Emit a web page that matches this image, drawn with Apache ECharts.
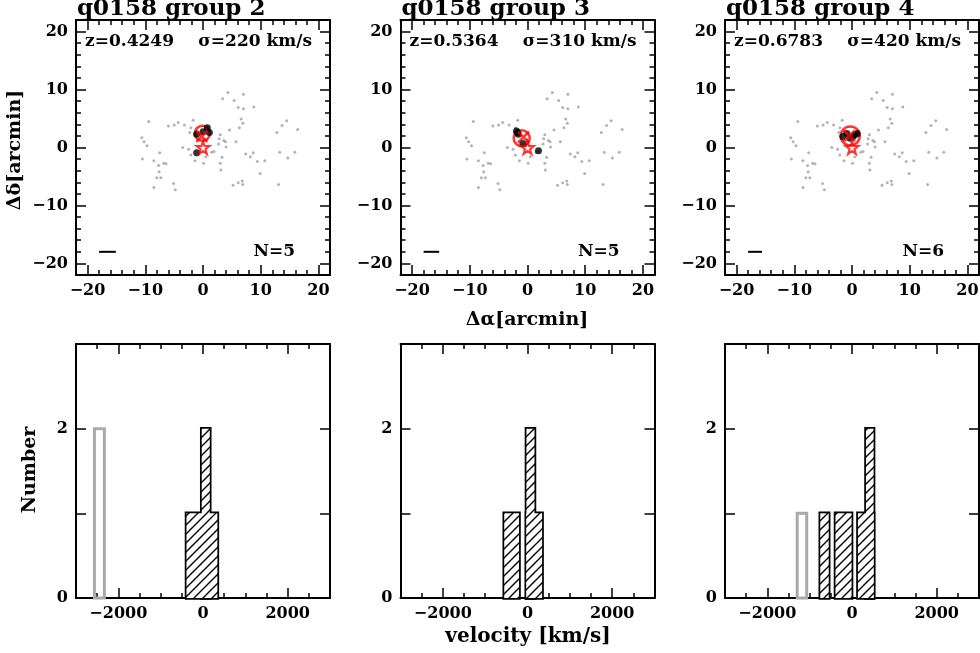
<!DOCTYPE html>
<html>
<head>
<meta charset="utf-8">
<script src="https://cdn.jsdelivr.net/npm/echarts@6/dist/echarts.min.js"></script>
<style>
  html, body { margin: 0; padding: 0; background: #fff; }
  #chart { width: 980px; height: 653px; }
</style>
</head>
<body>
<div id="chart"></div>
<script>
/* ── field galaxies round q0158 (arcmin), same in every panel ── */
const fieldX = [4.3, 3.4, 7.0, 5.4, 6.1, 7.0, 8.8, -9.4, -6.0, -5.0, -4.3, -3.2, -1.7, -2.1, -10.6, -10.2, -9.7,
  6.6, 6.9, 6.3, 4.6, 14.5, 13.7, 12.8, 16.4, 3.0, 2.8, 3.6, 3.9, 2.7, 4.0, 5.7, -3.5, -2.5, -2.1, -1.4, 0.1,
  1.5, 1.9, -10.5, -8.5, -7.5, -6.8, -6.4, -7.7, -7.6, -8.0, -7.3, -8.5, -5.1, -4.8, 3.3, 3.0, 3.1, 7.4, 8.7,
  8.2, 9.4, 10.7, 13.3, 14.7, 15.9, 9.9, 6.8, 5.2, 6.1, 6.9, 13.1, -2.3, -1.4, 0.5];
const fieldY = [9.5, 8.4, 9.2, 8.1, 6.9, 6.7, 7.0, 4.5, 3.7, 3.9, 4.3, 3.9, 4.7, 3.4, 1.7, 1.0, 0.3,
  4.9, 4.2, 3.4, 3.0, 4.6, 3.8, 2.6, 3.1, 2.2, 1.5, 1.2, 1.0, 0.6, 0.1, 1.0, 0.0, -0.3, -1.3, -2.3, -2.7,
  -0.8, -0.7, -2.0, -2.3, -0.9, -2.7, -2.8, -3.1, -4.2, -5.2, -5.2, -6.9, -6.2, -7.3, -1.7, -2.7, -3.9, -1.1, -0.9,
  -1.6, -2.4, -2.3, -0.8, -1.8, -0.8, -4.5, -5.8, -6.5, -6.1, -6.4, -6.4, 2.6, 2.4, -1.6];

/* ── groups ── */
const groupNames = ['q0158 group 2', 'q0158 group 3', 'q0158 group 4'];
const groupZ = ['0.4249', '0.5364', '0.6783'];
const groupSigma = [220, 310, 420];
const groupN = [5, 5, 6];

const memberX = [
  [-1.1, 0.75, 1.1, -1.1, 0.0],
  [-1.9, -1.6, -0.8, 1.9, -1.7],
  [-1.6, -0.9, -0.35, 0.2, 0.5, 0.9]
];
const memberY = [
  [2.3, 3.4, 2.6, -0.9, 2.7],
  [2.85, 2.3, 0.7, -0.55, 2.6],
  [1.9, 2.4, 1.6, 1.9, 2.2, 2.4]
];
const circleX = [-0.1, -1.0, -0.3];
const circleY = [2.45, 1.6, 2.0];
const crossX = [-0.2, -0.7, -0.45];
const crossY = [1.9, 1.8, 2.0];
const starX = [0, 0, 0];
const starY = [0, 0, 0];
const scaleLen = [2.9, 2.7, 2.4];   // bar length, arcmin

/* ── velocity histograms: [from, to, count] ── */
const histMembers = [
  [[-390, 340, 1], [-30, 160, 2]],
  [[-550, -200, 1], [-25, 345, 1], [-25, 165, 2]],
  [[-750, -550, 1], [-390, -10, 1], [140, 510, 1], [330, 510, 2]]
];
const histOthers = [
  [[-2565, -2330, 2]],
  [],
  [[-1295, -1070, 1]]
];

const skyTicks = [-20, -10, 0, 10, 20];
const velTicks = [-2000, 0, 2000];
const numTicks = [1, 2];
const numLabels = [0, 2];

/* ── layout ── */
const panelLeft = [76, 400.5, 725];
const panelW = 254;
const FONT = 'DejaVu Serif';
const labelStyle = {
  color: '#000', fontFamily: FONT, fontWeight: 'bold', fontSize: 16,
  formatter: v => (v < 0 ? '\u2212' + Math.abs(v) : String(v))
};

// hatch pattern for member bars
const hatch = document.createElement('canvas');
hatch.width = 9; hatch.height = 9;
(function () {
  const c = hatch.getContext('2d');
  c.fillStyle = '#fff'; c.fillRect(0, 0, 9, 9);
  c.strokeStyle = '#000'; c.lineWidth = 1.4;
  c.beginPath();
  c.moveTo(-1, 10); c.lineTo(10, -1);
  c.moveTo(-1, 1); c.lineTo(1, -1);
  c.moveTo(8, 10); c.lineTo(10, 8);
  c.stroke();
})();

function boxAxes(dim, g, range, step, majors, labels) {
  const sides = dim === 'x' ? ['bottom', 'top'] : ['left', 'right'];
  const out = [];
  sides.forEach((pos, k) => {
    const base = { type: 'value', gridIndex: g, position: pos, min: range[0], max: range[1], splitLine: { show: false } };
    out.push(Object.assign({}, base, {
      interval: step,
      axisLine: { show: true, onZero: false, lineStyle: { color: '#000', width: 2 } },
      axisTick: { show: dim === 'x' || range[1] > 5, inside: true, length: 5, lineStyle: { color: '#000', width: 1.5 } },
      axisLabel: { show: false }
    }));
    out.push(Object.assign({}, base, {
      axisLine: { show: false, onZero: false },
      axisTick: { show: true, inside: true, length: 10, customValues: majors, lineStyle: { color: '#000', width: 1.5 } },
      axisLabel: Object.assign({ show: k === 0, customValues: labels, margin: 8 }, labelStyle)
    }));
  });
  return out;
}

const grids = [], xAxes = [], yAxes = [], series = [], texts = [];

for (let i = 0; i < 3; i++) {
  // sky panel
  const g = grids.length;
  grids.push({ left: panelLeft[i], top: 20, width: panelW, height: 255 });
  xAxes.push(...boxAxes('x', g, [-22, 22], 2, skyTicks, skyTicks));
  yAxes.push(...boxAxes('y', g, [-22, 22], 2, skyTicks, skyTicks));
  const ax = { xAxisIndex: g * 4, yAxisIndex: g * 4 };

  series.push(Object.assign({
    type: 'scatter', symbolSize: 3, silent: true,
    itemStyle: { color: '#a0a0a0' },
    data: fieldX.map((x, j) => [x, fieldY[j]])
  }, ax));
  series.push(Object.assign({
    type: 'scatter', symbol: 'circle', symbolSize: [15, 16, 19][i], silent: true,
    itemStyle: { color: 'rgba(0,0,0,0)', borderColor: '#f00', borderWidth: 2.5 },
    data: [[circleX[i], circleY[i]]]
  }, ax));
  series.push(Object.assign({
    type: 'scatter', symbolSize: 7, silent: true,
    itemStyle: { color: '#000' },
    data: memberX[i].map((x, j) => [x, memberY[i][j]])
  }, ax));
  series.push(Object.assign({
    type: 'scatter', symbol: 'path://M0,0L10,10M10,0L0,10', symbolSize: 11, silent: true,
    itemStyle: { color: 'rgba(0,0,0,0)', borderColor: '#f00', borderWidth: 2.5 },
    data: [[crossX[i], crossY[i]]]
  }, ax));
  series.push(Object.assign({
    type: 'scatter', symbolSize: 13, silent: true,
    symbol: 'path://M50,0L61,35L98,35L68,57L79,91L50,70L21,91L32,57L2,35L39,35Z',
    itemStyle: { color: 'rgba(0,0,0,0)', borderColor: '#f00', borderWidth: 2 },
    data: [[starX[i], starY[i]]]
  }, ax));
  series.push(Object.assign({
    type: 'line', symbol: 'none', silent: true,
    lineStyle: { color: '#000', width: 2 },
    data: [[-18, -18], [-18 + scaleLen[i], -18]]
  }, ax));

  // velocity panel
  const h = grids.length;
  grids.push({ left: panelLeft[i], top: 344, width: panelW, height: 254 });
  xAxes.push(...boxAxes('x', h, [-3000, 3000], 500, velTicks, velTicks));
  yAxes.push(...boxAxes('y', h, [0, 3], 1, numTicks, numLabels));
  const hx = { xAxisIndex: h * 4, yAxisIndex: h * 4 };

  const rectOf = (api) => {
    const p0 = api.coord([api.value(0), api.value(2)]);
    const p1 = api.coord([api.value(1), 0]);
    return { x: p0[0], y: p0[1], width: p1[0] - p0[0], height: p1[1] - p0[1] };
  };
  series.push(Object.assign({
    type: 'custom', silent: true, encode: { x: [0, 1], y: 2 },
    renderItem: (p, api) => ({ type: 'rect', shape: rectOf(api), style: { fill: 'none', stroke: '#aaa', lineWidth: 3 } }),
    data: histOthers[i]
  }, hx));
  series.push(Object.assign({
    type: 'custom', silent: true, encode: { x: [0, 1], y: 2 },
    renderItem: (p, api) => ({ type: 'rect', shape: rectOf(api), style: { fill: 'none', stroke: '#000', lineWidth: 3.5 } }),
    data: histMembers[i]
  }, hx));
  series.push(Object.assign({
    type: 'custom', silent: true, encode: { x: [0, 1], y: 2 },
    renderItem: (p, api) => ({ type: 'rect', shape: rectOf(api), style: { fill: { image: hatch, repeat: 'repeat' }, stroke: null } }),
    data: histMembers[i]
  }, hx));

  // panel texts
  const L = panelLeft[i], R = panelLeft[i] + panelW;
  texts.push({ type: 'text', x: L + 1, y: 9, style: { text: groupNames[i], font: `bold 23px "${FONT}"`, fill: '#000', textAlign: 'left', textVerticalAlign: 'middle' } });
  texts.push({ type: 'text', x: L + 9, y: 42, style: { text: 'z=' + groupZ[i], font: `bold 17px "${FONT}"`, fill: '#000', textAlign: 'left', textVerticalAlign: 'middle' } });
  texts.push({ type: 'text', x: R - 18, y: 42, style: { text: 'σ=' + groupSigma[i] + ' km/s', font: `bold 17px "${FONT}"`, fill: '#000', textAlign: 'right', textVerticalAlign: 'middle' } });
  texts.push({ type: 'text', x: R - 35, y: 252, style: { text: 'N=' + groupN[i], font: `bold 17px "${FONT}"`, fill: '#000', textAlign: 'right', textVerticalAlign: 'middle' } });
}

texts.push({ type: 'text', x: 15, y: 150, rotation: Math.PI / 2, style: { text: 'Δδ[arcmin]', font: `bold 19px "${FONT}"`, fill: '#000', textAlign: 'center', textVerticalAlign: 'middle' } });
texts.push({ type: 'text', x: 527, y: 320, style: { text: 'Δα[arcmin]', font: `bold 19px "${FONT}"`, fill: '#000', textAlign: 'center', textVerticalAlign: 'middle' } });
texts.push({ type: 'text', x: 30, y: 470, rotation: Math.PI / 2, style: { text: 'Number', font: `bold 19px "${FONT}"`, fill: '#000', textAlign: 'center', textVerticalAlign: 'middle' } });
texts.push({ type: 'text', x: 528, y: 637, style: { text: 'velocity [km/s]', font: `bold 20px "${FONT}"`, fill: '#000', textAlign: 'center', textVerticalAlign: 'middle' } });

const chart = echarts.init(document.getElementById('chart'));
chart.setOption({
  animation: false,
  backgroundColor: '#fff',
  grid: grids.map(g => Object.assign({ outerBoundsMode: 'none', containLabel: false }, g)),
  xAxis: xAxes,
  yAxis: yAxes,
  series: series,
  graphic: texts
});
</script>
</body>
</html>
